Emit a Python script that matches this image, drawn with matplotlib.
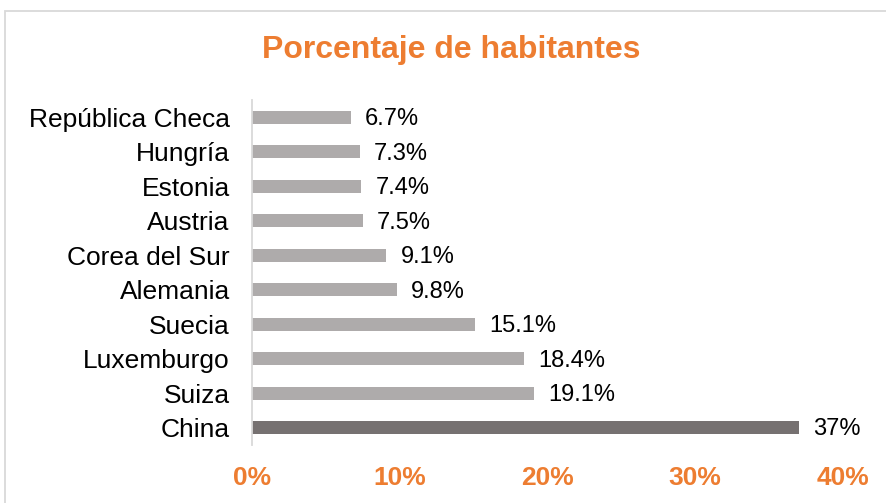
import matplotlib.pyplot as plt
from matplotlib.patches import Rectangle

plt.rcParams['font.family'] = ['Liberation Sans', 'DejaVu Sans']

# Datos (de arriba hacia abajo)
paises = ["República Checa", "Hungría", "Estonia", "Austria", "Corea del Sur",
          "Alemania", "Suecia", "Luxemburgo", "Suiza", "China"]
porcentajes = [6.7, 7.3, 7.4, 7.5, 9.1, 9.8, 15.1, 18.4, 19.1, 37]
etiquetas = ["6.7%", "7.3%", "7.4%", "7.5%", "9.1%", "9.8%", "15.1%", "18.4%", "19.1%", "37%"]

naranja = "#ED7D31"
gris = "#AEABAB"
gris_oscuro = "#767171"

fig = plt.figure(figsize=(8.86, 5.03), dpi=100)
ax = fig.add_axes([0.2844, 0.1153, 0.9515 - 0.2844, 0.801 - 0.1153])

# invertimos para que China quede abajo
pos = list(range(len(paises)))[::-1]
colores = [gris] * (len(paises) - 1) + [gris_oscuro]
ax.barh(pos, porcentajes, height=0.38, color=colores)

for p, v, t in zip(pos, porcentajes, etiquetas):
    ax.text(v + 0.95, p - 0.05, t, va="center", ha="left", fontsize=17, color="black")

ax.set_yticks(pos)
ax.set_yticklabels(paises, fontsize=19)
ax.set_ylim(-0.5, 9.5)
ax.set_xlim(0, 40)
ax.set_xticks([0, 10, 20, 30, 40])
ax.set_xticklabels(["0%", "10%", "20%", "30%", "40%"], fontsize=19,
                   fontweight="bold", color=naranja)
ax.tick_params(axis="y", length=0, pad=16)
ax.tick_params(axis="x", length=0, pad=15)

for s in ["top", "right", "bottom"]:
    ax.spines[s].set_visible(False)
ax.spines["left"].set_color("#D9D9D9")
ax.spines["left"].set_linewidth(1.3)

fig.text(0.509, 0.9, "Porcentaje de habitantes", ha="center", va="center",
         fontsize=23, fontweight="bold", color=naranja)

# marco del grafico
fig.patches.append(Rectangle((5 / 886, -0.05), 1.1, 1 - 11 / 503 + 0.05,
                             transform=fig.transFigure, fill=False,
                             edgecolor="#D9D9D9", linewidth=1.3))

plt.savefig("out.png", dpi=100)
